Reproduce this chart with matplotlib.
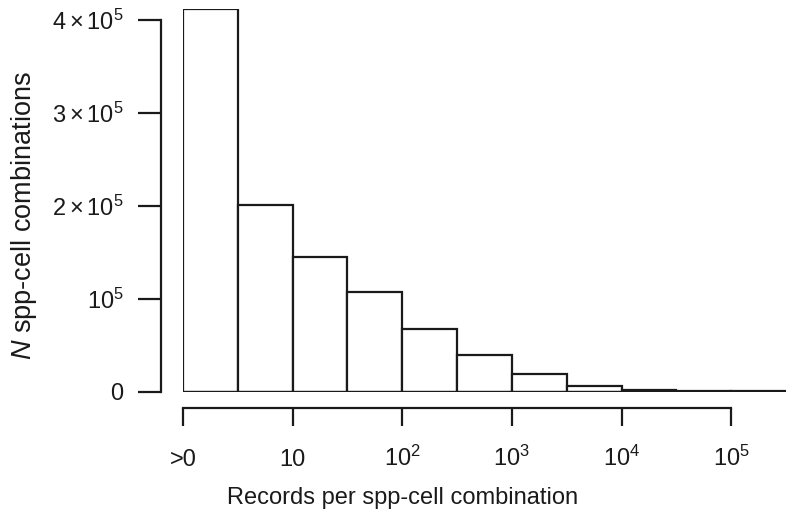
import matplotlib
matplotlib.use('Agg')
import matplotlib.pyplot as plt
import numpy as np

plt.rcParams['font.family'] = ['Liberation Sans', 'DejaVu Sans']
plt.rcParams['mathtext.fontset'] = 'custom'
plt.rcParams['mathtext.rm'] = 'Liberation Sans'
plt.rcParams['mathtext.it'] = 'Liberation Sans:italic'

# half-decade bins on log10 scale (>0 .. 10^5.5)
bin_edges = [0, 0.5, 1, 1.5, 2, 2.5, 3, 3.5, 4, 4.5, 5, 5.5]
counts = [411400, 200800, 144500, 106800, 67000, 39500, 19000, 6200, 2000, 600, 250]
x_ticks = [0, 1, 2, 3, 4, 5]
x_labels = ['>0', '10', r'$10^2$', r'$10^3$', r'$10^4$', r'$10^5$']
y_ticks = [0, 1e5, 2e5, 3e5, 4e5]
y_labels = ['0', r'$10^5$', r'$2\times10^5$', r'$3\times10^5$', r'$4\times10^5$']

W, H = 788, 517
fig = plt.figure(figsize=(W / 100, H / 100), dpi=100)
ax = fig.add_axes([183 / W, 1 - 391.5 / H, 603 / W, (391.5 - 9.3) / H])

lw = 1.6
ink = '#1a1a1a'
ax.bar(bin_edges[:-1], counts, width=np.diff(bin_edges), align='edge',
       facecolor='white', edgecolor=ink, linewidth=lw)
ax.plot([bin_edges[0], bin_edges[-1]], [0, 0], color=ink, lw=lw)

ax.set_xlim(bin_edges[0], bin_edges[-1])
ax.set_ylim(0, counts[0])

# detached axes (points: 1 pt = 1.389 px at dpi 100)
for s in ['top', 'right']:
    ax.spines[s].set_visible(False)
ax.spines['left'].set_position(('outward', 16.2))
ax.spines['bottom'].set_position(('outward', 11.6))
ax.spines['left'].set_bounds(0, 4e5)
ax.spines['bottom'].set_bounds(0, 5)
for s in ['left', 'bottom']:
    ax.spines[s].set_linewidth(lw)
    ax.spines[s].set_color(ink)

ax.set_xticks(x_ticks)
ax.set_xticklabels(x_labels)
ax.set_yticks(y_ticks)
ax.set_yticklabels(y_labels)
ax.tick_params(axis='x', length=12.6, width=lw, pad=29.4, labelsize=17, colors=ink)
ax.tick_params(axis='y', length=16.5, width=lw, pad=10, labelsize=17, colors=ink)
for lbl in ax.get_xticklabels():
    lbl.set_verticalalignment('baseline')

fig.text(403 / W, 1 - 498 / H, 'Records per spp-cell combination', ha='center', va='center',
         fontsize=17, color=ink)
fig.text(24 / W, 1 - 215 / H, r'$\mathit{N}$ spp-cell combinations', ha='center', va='center',
         rotation=90, fontsize=19.5, color=ink)

fig.savefig('out.png', dpi=100, facecolor='white')
